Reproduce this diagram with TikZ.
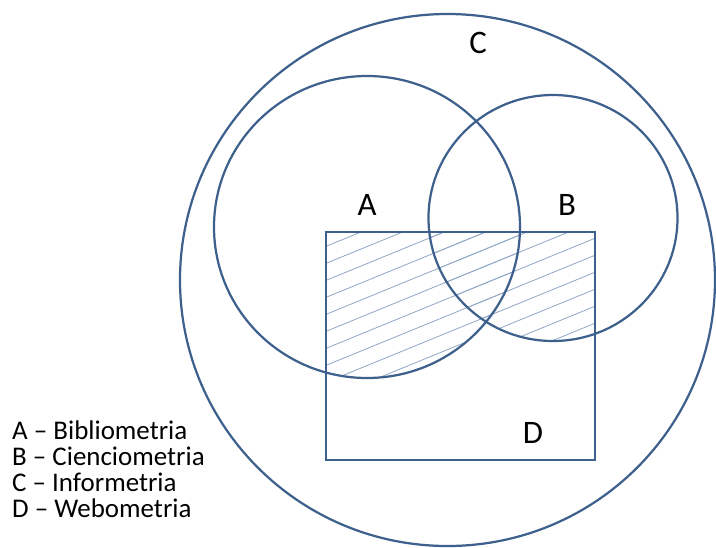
\documentclass[tikz,border=0pt]{standalone}
\usepackage{fontspec}
\setmainfont{Carlito}
\definecolor{setblue}{RGB}{62,96,140}
\definecolor{hatchblue}{RGB}{145,168,198}

\begin{document}
\begin{tikzpicture}[x=0.03cm, y=-0.03cm,
    set/.style={draw=setblue, line width=1.9pt},
    hatch/.style={hatchblue, line width=0.7pt},
    lbl/.style={font=\fontsize{28}{32}\selectfont},
    key/.style={anchor=west, inner sep=0pt, font=\fontsize{23}{26}\selectfont}]
  \useasboundingbox (0,0) rectangle (716,547);
  \coordinate (CC) at (447.5,280);
  \coordinate (CA) at (367,227);
  \coordinate (CB) at (553,218);
  \coordinate (D1) at (326,232);
  \coordinate (D2) at (595,460);

  % hatched part of D that lies in A or B
  \begin{scope}
    \clip (D1) rectangle (D2);
    \begin{scope}
      \clip (CA) ellipse [x radius=153, y radius=151];
      \foreach \c in {240,257,...,640}
        \draw[hatch] (300,\c) -- (620,\c-131);
    \end{scope}
    \begin{scope}
      \clip (CB) ellipse [x radius=124.5, y radius=123];
      \foreach \c in {240,257,...,640}
        \draw[hatch] (300,\c) -- (620,\c-131);
    \end{scope}
  \end{scope}

  \draw[set] (CC) ellipse [x radius=267.5, y radius=266];
  \draw[set] (CA) ellipse [x radius=153, y radius=151];
  \draw[set] (CB) ellipse [x radius=124.5, y radius=123];
  \draw[set, line width=1.7pt] (D1) rectangle (D2);

  \node[lbl] (lc) at (478,43) {C};
  \node[lbl] (la) at (367,205) {A};
  \node[lbl] (lb) at (567,205) {B};
  \node[lbl] (ld) at (533,433) {D};

  \node[key] (ka) at (12,430) {A -- Bibliometria};
  \node[key] (kb) at (12,456) {B -- Cienciometria};
  \node[key] (kc) at (12,482) {C -- Informetria};
  \node[key] (kd) at (12,508) {D -- Webometria};
\end{tikzpicture}
\end{document}
